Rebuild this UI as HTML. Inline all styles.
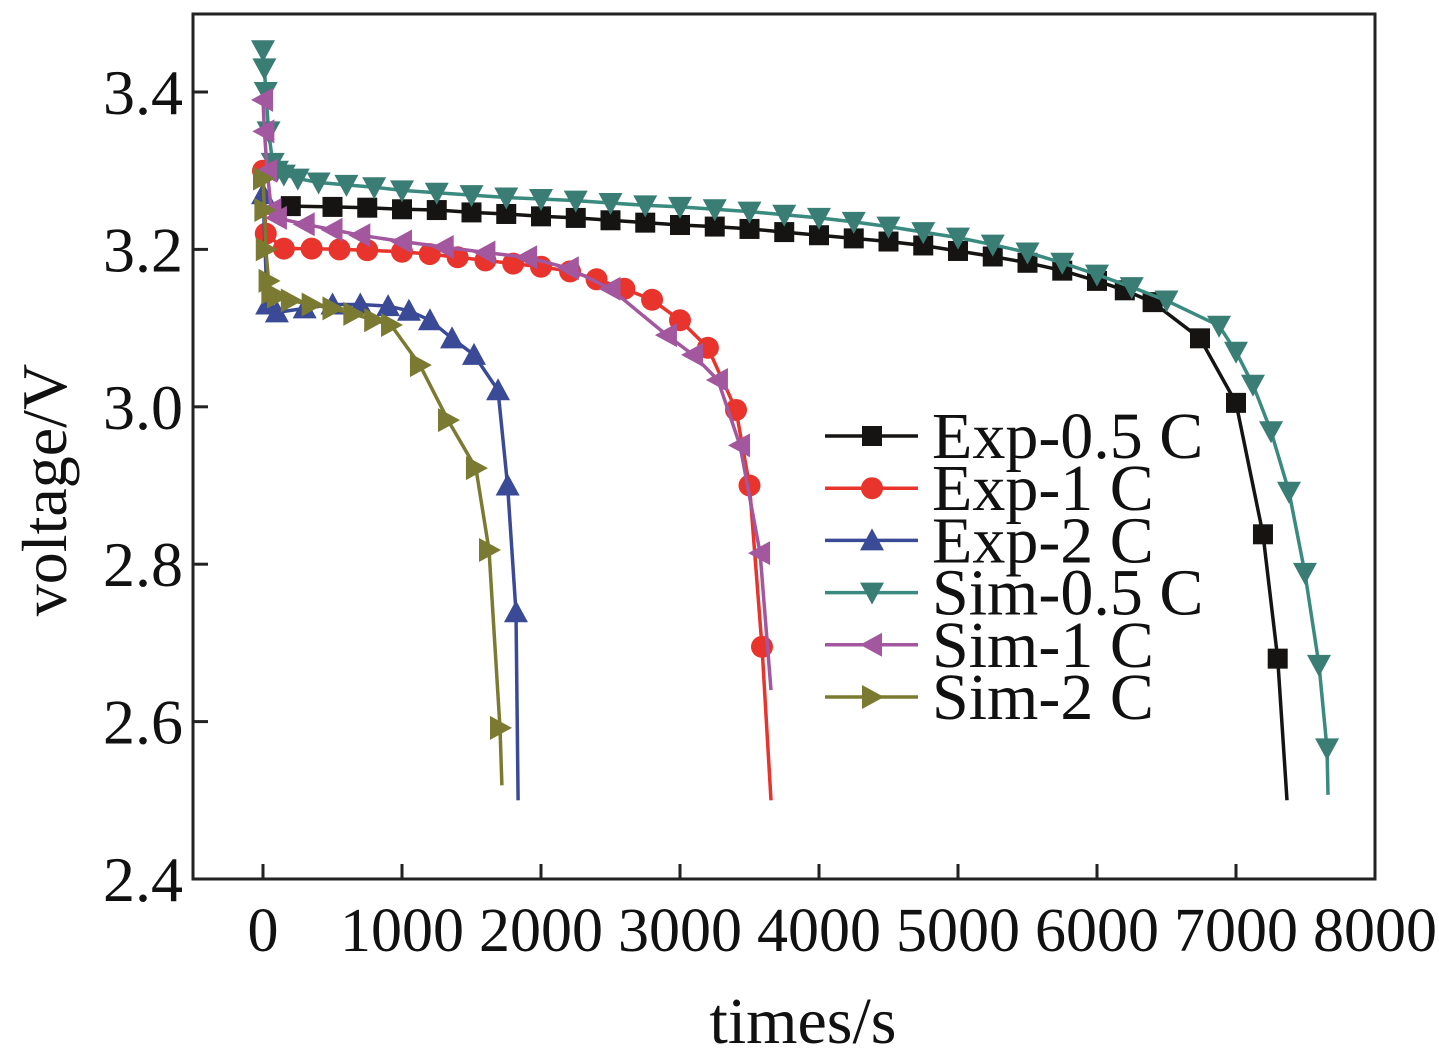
<!DOCTYPE html>
<html><head><meta charset="utf-8"><style>
body{margin:0;background:#fff}
svg text{font-family:"Liberation Serif",serif;fill:#111}
</style></head><body>
<svg id="chart" width="1439" height="1057" xmlns="http://www.w3.org/2000/svg">
<rect x="193" y="14" width="1182" height="865" fill="none" stroke="#222" stroke-width="3"/>
<g id="axes"></g><g id="series"></g><g id="legend"></g>
<text x="803" y="1043" font-size="66" text-anchor="middle">times/s</text>
<text transform="translate(66,490) rotate(-90)" font-size="64" text-anchor="middle">voltage/V</text>
</svg>
<script>
const xTicks=[0,1000,2000,3000,4000,5000,6000,7000,8000];
const yTicks=[2.4,2.6,2.8,3.0,3.2,3.4];
const seriesNames=["Exp-0.5 C","Exp-1 C","Exp-2 C","Sim-0.5 C","Sim-1 C","Sim-2 C"];
const exp05T=[200,500,750,1000,1250,1500,1750,2000,2250,2500,2750,3000,3250,3500,3750,4000,4250,4500,4750,5000,5250,5500,5750,6000,6200,6400,6741,7000,7194,7300,7367];
const exp05V=[3.255,3.254,3.253,3.251,3.25,3.247,3.245,3.242,3.24,3.237,3.234,3.231,3.229,3.226,3.222,3.218,3.214,3.21,3.205,3.198,3.191,3.183,3.173,3.16,3.148,3.133,3.087,3.005,2.838,2.68,2.5];
const exp1T=[0,20,150,350,550,750,1000,1200,1400,1600,1800,2000,2209,2400,2600,2799,3000,3201,3403,3500,3590,3655];
const exp1V=[3.3,3.22,3.201,3.201,3.2,3.199,3.197,3.194,3.19,3.186,3.182,3.178,3.172,3.162,3.15,3.136,3.11,3.075,2.996,2.9,2.695,2.5];
const exp2T=[0,30,100,300,500,700,900,1050,1201,1360,1518,1691,1760,1820,1835];
const exp2V=[3.27,3.13,3.12,3.125,3.13,3.13,3.128,3.122,3.11,3.087,3.066,3.021,2.9,2.739,2.5];
const sim05T=[0,10,20,40,70,100,150,250,400,600,800,1000,1250,1500,1750,2000,2250,2500,2750,3000,3250,3500,3750,4000,4250,4500,4750,5000,5250,5500,5750,6000,6250,6500,6878,7000,7122,7252,7381,7496,7597,7655,7662];
const sim05V=[3.453,3.43,3.4,3.35,3.31,3.3,3.295,3.29,3.285,3.282,3.279,3.275,3.272,3.269,3.266,3.264,3.262,3.259,3.256,3.254,3.251,3.248,3.244,3.24,3.235,3.229,3.222,3.215,3.206,3.196,3.183,3.168,3.152,3.135,3.103,3.07,3.028,2.969,2.892,2.789,2.672,2.566,2.507];
const sim1T=[0,10,30,60,100,300,500,700,1000,1300,1600,1900,2200,2500,2906,3094,3273,3432,3576,3655];
const sim1V=[3.39,3.35,3.3,3.25,3.24,3.232,3.225,3.218,3.21,3.203,3.196,3.19,3.176,3.15,3.091,3.066,3.034,2.951,2.814,2.64];
const sim2T=[0,10,20,40,60,100,200,350,500,650,800,921,1129,1331,1532,1626,1705,1719];
const sim2V=[3.29,3.25,3.2,3.16,3.145,3.14,3.135,3.13,3.125,3.118,3.11,3.104,3.053,2.983,2.922,2.818,2.592,2.519];
const seriesT=[exp05T,exp1T,exp2T,sim05T,sim1T,sim2T];
const seriesV=[exp05V,exp1V,exp2V,sim05V,sim1V,sim2V];
const colors=["#161412","#e8342c","#3b4a96","#3a7d74","#a2579f","#7b7a32"];
const shapes=["square","circle","up","down","left","right"];
const lineColors=["#161412","#e8342c","#3b4a96","#3a8a80","#a2579f","#7b7a32"];

const NS="http://www.w3.org/2000/svg";
function X(t){return 263+t*0.139;}
function Y(v){return 879-(v-2.4)*787;}
function mk(tag,attrs,parent){const e=document.createElementNS(NS,tag);for(const k in attrs)e.setAttribute(k,attrs[k]);parent.appendChild(e);return e;}
const axes=document.getElementById('axes');
xTicks.forEach(t=>{
  const l=mk('line',{x1:X(t),x2:X(t),y1:879,y2:864,stroke:'#222','stroke-width':3},axes);
  
  
  const tx=mk('text',{x:X(t),y:951,'font-size':62,'text-anchor':'middle'},axes);
  tx.textContent=t;
  
  
});
yTicks.forEach(v=>{
  const l=mk('line',{x1:193,x2:208,y1:Y(v),y2:Y(v),stroke:'#222','stroke-width':3},axes);
  
  
  const tx=mk('text',{x:183,y:Y(v)+22,'font-size':64,'text-anchor':'end'},axes);
  tx.textContent=v.toFixed(1);
  
  
});
function marker(shape,cx,cy,c,parent){
  const s=10;let e;
  if(shape==='square')e=mk('rect',{x:cx-s,y:cy-s,width:2*s,height:2*s,fill:c},parent);
  else if(shape==='circle')e=mk('circle',{cx:cx,cy:cy,r:s+1,fill:c},parent);
  else{
    let p;
    if(shape==='up')p=[[cx,cy-s-2],[cx-s-2,cy+s],[cx+s+2,cy+s]];
    if(shape==='down')p=[[cx,cy+s+2],[cx-s-2,cy-s],[cx+s+2,cy-s]];
    if(shape==='left')p=[[cx-s-2,cy],[cx+s,cy-s-2],[cx+s,cy+s+2]];
    if(shape==='right')p=[[cx+s+2,cy],[cx-s,cy-s-2],[cx-s,cy+s+2]];
    e=mk('polygon',{points:p.map(q=>q.join(',')).join(' '),fill:c},parent);
  }
  return e;
}
const sg=document.getElementById('series');
seriesT.forEach((T,i)=>{
  const g=mk('g',{},sg);
  
  
  const d=T.map((t,j)=>(j?'L':'M')+X(t).toFixed(1)+','+Y(seriesV[i][j]).toFixed(1)).join(' ');
  const p=mk('path',{d:d,fill:'none',stroke:lineColors[i],'stroke-width':3.5},g);
  
  
  T.forEach((t,j)=>{
    if(j===T.length-1)return;
    const m=marker(shapes[i],X(t),Y(seriesV[i][j]),colors[i],g);
    
    
  });
});
const lg=document.getElementById('legend');
seriesNames.forEach((n,i)=>{
  const y=436+i*52.2;
  const g=mk('g',{},lg);
  
  
  mk('line',{x1:825,x2:918,y1:y,y2:y,stroke:lineColors[i],'stroke-width':3.5},g);
  marker(shapes[i],872,y,colors[i],g);
  const tx=mk('text',{x:932,y:y+22,'font-size':66},g);
  tx.textContent=n;
});
</script>
</body></html>
